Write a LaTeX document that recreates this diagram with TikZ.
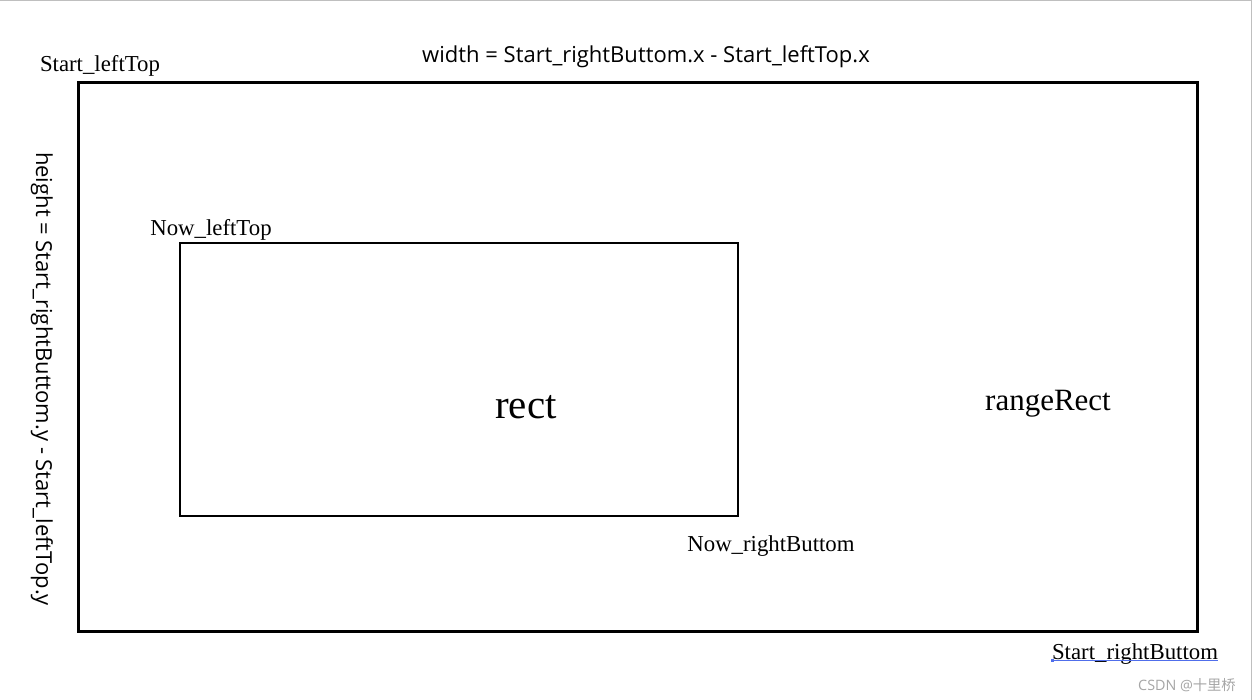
\documentclass[tikz,border=0pt]{standalone}
\usepackage{fontspec}
\setmainfont{Liberation Serif}
\newfontfamily\labelsans{Open Sans}
\newfontfamily\cjk{Noto Sans CJK SC}
\definecolor{spellblue}{RGB}{80,110,235}
\begin{document}
\begin{tikzpicture}[x=1pt,y=-1pt,
  serif/.style={inner sep=0pt,font=\fontsize{22.8}{27}\selectfont},
  sanslbl/.style={inner sep=0pt,font=\labelsans\fontsize{22}{26}\selectfont},
  frame/.style={draw=black,line width=3pt},
  inner/.style={draw=black,line width=2.5pt}]
\useasboundingbox (0,0) rectangle (1252,700);
\fill[white] (0,0) rectangle (1252,700);
\draw[gray!50,line width=1pt] (0,0.5) -- (1251.5,0.5) -- (1251.5,700);
% outer rectangle
\coordinate (outerTL) at (78,83);
\coordinate (outerBR) at (1197,631);
\draw[frame] (outerTL) rectangle (outerBR);
% inner rectangle
\coordinate (innerTL) at (180,243);
\coordinate (innerBR) at (738,516);
\draw[inner] (innerTL) rectangle (innerBR);
% labels
\node[serif] (startLT) at (100,66) {Start\_leftTop};
\node[sanslbl] (width) at (646,57) {width = Start\_rightButtom.x - Start\_leftTop.x};
\node[sanslbl,rotate=-90] (height) at (42,379) {height = Start\_rightButtom.y - Start\_leftTop.y};
\node[serif] (nowLT) at (211,230) {Now\_leftTop};
\node[inner sep=0pt,font=\fontsize{41}{46}\selectfont] (rect) at (526,407) {rect};
\node[inner sep=0pt,font=\fontsize{31}{36}\selectfont] (range) at (1048,404) {rangeRect};
\node[serif] (nowRB) at (771,546) {Now\_rightButtom};
\node[serif] (startRB) at (1135,654) {Start\_rightButtom};
\coordinate (ulA) at (1052,660.5);
\coordinate (ulB) at (1218,660.5);
\draw[spellblue,line width=1pt] (ulA) -- (ulB);
\fill[spellblue] (ulA) ++(-1.5,-1.5) rectangle ++(3,3);
\node[inner sep=0pt,text=gray!70,font=\fontsize{14.3}{17}\selectfont\labelsans] (mark) at (1187,685) {CSDN @{\cjk 十里桥}};
\end{tikzpicture}
\end{document}
